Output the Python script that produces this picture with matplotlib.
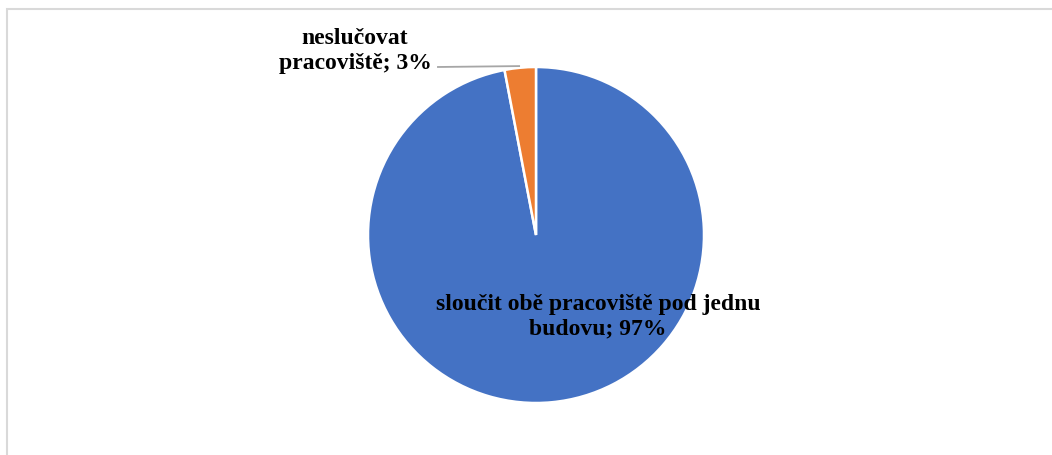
import matplotlib
matplotlib.use("Agg")
import matplotlib.pyplot as plt
from matplotlib.patches import Rectangle
import numpy as np

categories = ["sloučit obě pracoviště pod jednu budovu", "neslučovat pracoviště"]
label_lines = ["sloučit obě pracoviště pod jednu\nbudovu", "neslučovat\npracoviště"]
values = [97, 3]
colors = ["#4472C4", "#ED7D31"]

W, H = 1052, 456
fig = plt.figure(figsize=(W / 100, H / 100), dpi=100)
fig.patch.set_facecolor("white")

# pie centre and radius in pixels
cx, cy, R = 536, 236, 168
ax = fig.add_axes([(cx - R) / W, (H - cy - R) / H, 2 * R / W, 2 * R / H])
ax.axis("off")

wedges, _ = ax.pie(values, colors=colors, startangle=90, counterclock=False,
                   radius=1, wedgeprops=dict(edgecolor="white", linewidth=1.8))
for w in wedges:
    w.set_clip_on(False)
ax.set_xlim(-1, 1)
ax.set_ylim(-1, 1)
ax.set_aspect("equal")

total = sum(values)
font = dict(family="Liberation Serif", weight="bold", size=17, color="black")

# large slice label inside
ax.text(0.369, -0.48, f"{label_lines[0]}; {round(values[0] / total * 100)}%",
        ha="center", va="center", linespacing=1.22, clip_on=False, **font)

# small slice label outside with leader line
ax.text(-1.077, 1.1, f"{label_lines[1]}; {round(values[1] / total * 100)}%",
        ha="center", va="center", linespacing=1.22, clip_on=False, **font)
w = wedges[1]
mid = np.deg2rad((w.theta1 + w.theta2) / 2)
ex, ey = np.cos(mid) * 1.01, np.sin(mid) * 1.01
ax.plot([-0.589, ex], [1.0, ey], color="#a6a6a6", lw=1.3, clip_on=False,
        solid_capstyle="butt")

# chart area frame
fig.add_artist(Rectangle((7 / W, -0.1), 1.2, (H - 9.5) / H + 0.1,
                         transform=fig.transFigure, fill=False,
                         edgecolor="#d9d9d9", linewidth=1.5))

fig.savefig("out.png", dpi=100, facecolor="white")
